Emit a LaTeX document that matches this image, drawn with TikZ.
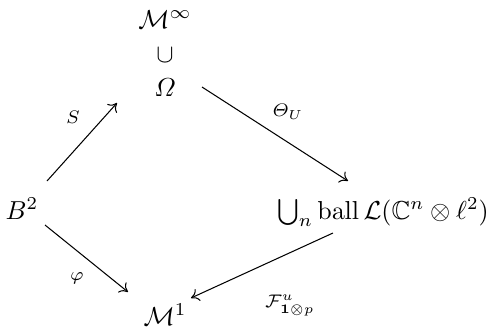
\documentclass[tikz,border=0pt]{standalone}
\usepackage{amsmath,amssymb}
\usetikzlibrary{arrows.meta}
\begin{document}
\begin{tikzpicture}[x=0.385pt,y=-0.385pt,
  obj/.style={inner sep=0pt,anchor=base},
  map/.style={-{To[length=3pt,width=5pt]},line width=0.4pt},
  lab/.style={font=\scriptsize,inner sep=1pt}]
\useasboundingbox (0,0) rectangle (491,331);
\node[obj] (Minf) at (165,28) {$\mathcal{M}^\infty$};
\node[obj] (cup) at (165,62) {$\cup$};
\node[obj] (Om) at (165,96) {$\varOmega$};
\node[obj] (B) at (22,219) {$B^2$};
\node[obj] (U) at (383,219) {$\bigcup_n \operatorname{ball}\mathcal{L}(\mathbb{C}^n\otimes\ell^2)$};
\node[obj] (M1) at (165,325) {$\mathcal{M}^1$};
\coordinate (b1) at (47,181);
\coordinate (o1) at (117,103);
\coordinate (o2) at (202,87);
\coordinate (u1) at (348,181);
\coordinate (b2) at (45,225);
\coordinate (m1) at (128,292);
\coordinate (u2) at (333,233);
\coordinate (m2) at (191,298);
\draw[map] (b1) -- (o1);
\draw[map] (o2) -- (u1);
\draw[map] (b2) -- (m1);
\draw[map] (u2) -- (m2);
\node[lab] (S) at (73,117) {$S$};
\node[lab] (Th) at (288,112) {$\varTheta_U$};
\node[lab] (ph) at (77,278) {$\varphi$};
\node[lab] (F) at (290,305) {$\mathcal{F}^u_{\mathbf{1}\otimes p}$};
\end{tikzpicture}
\end{document}
